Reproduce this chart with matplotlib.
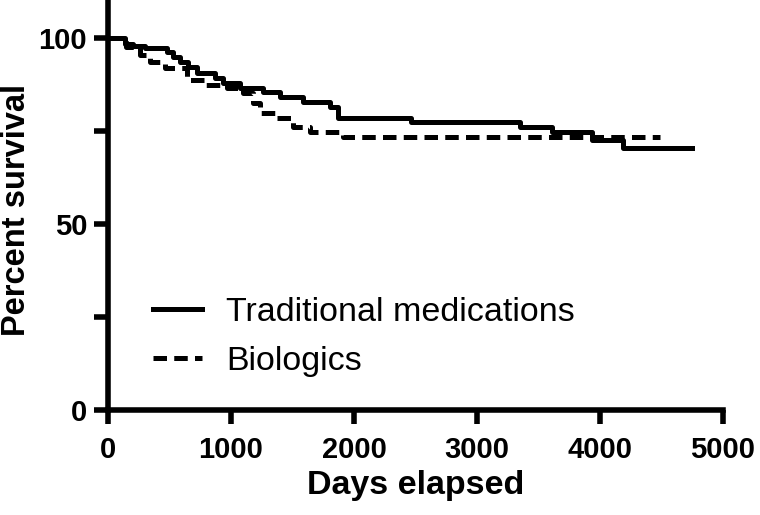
import matplotlib.pyplot as plt

plt.rcParams['font.family'] = ['Liberation Sans', 'DejaVu Sans']

# Kaplan-Meier steps
trad_days = [0, 140, 200, 300, 480, 530, 585, 650, 720, 870, 935, 1075, 1260,
             1400, 1585, 1805, 1870, 2460, 3350, 3610, 3935, 4185, 4750]
trad_surv = [100, 98.5, 98, 97.3, 96.3, 95, 93.6, 92.3, 90.6, 89.2, 87.9, 86.5, 85.5,
             84.1, 82.8, 81.5, 78.5, 77.4, 76, 74.7, 72.6, 70.4, 70.4]

bio_days = [0, 150, 260, 340, 460, 640, 800, 970, 1100, 1180, 1235, 1370, 1500,
            1640, 1910, 4490]
bio_surv = [100, 97.7, 95.4, 93.6, 91.9, 88.7, 87.4, 86.5, 85.2, 82.5, 79.8, 78.5, 76.1,
            74.7, 73.4, 73.4]

x_ticks = [0, 1000, 2000, 3000, 4000, 5000]
y_ticks = [0, 25, 50, 75, 100]
y_labels = ['0', '', '50', '', '100']

fig = plt.figure(figsize=(7.6, 5.15), dpi=100)
ax = fig.add_axes([108 / 760, 105 / 515, 615 / 760, 409 / 515])

ax.plot(trad_days, trad_surv, drawstyle='steps-post', color='black', lw=3.6,
        label='Traditional medications')
ax.plot(bio_days, bio_surv, drawstyle='steps-post', color='black', lw=3.6,
        dashes=(2.7, 1.45), label='Biologics')

ax.set_xlim(0, 5000)
ax.set_ylim(0, 110)
ax.set_xticks(x_ticks)
ax.set_xticklabels([str(t) for t in x_ticks])
ax.set_yticks(y_ticks)
ax.set_yticklabels(y_labels)

for s in ['top', 'right']:
    ax.spines[s].set_visible(False)
for s in ['left', 'bottom']:
    ax.spines[s].set_linewidth(4)
ax.tick_params(width=4, length=10, direction='out', labelsize=21)
ax.tick_params(axis='x', pad=9)
ax.tick_params(axis='y', pad=5)
for lab in ax.get_xticklabels() + ax.get_yticklabels():
    lab.set_fontweight('bold')

ax.set_xlabel('Days elapsed', fontsize=24.5, fontweight='bold', labelpad=4)
ax.set_ylabel('Percent survival', fontsize=23.5, fontweight='bold')
ax.yaxis.set_label_coords(-0.124, 0.49)

leg = ax.legend(loc='center left', bbox_to_anchor=(153 / 760, 1 - 337 / 515),
                bbox_transform=fig.transFigure, frameon=False, fontsize=24.5,
                handlelength=1.45, handletextpad=0.7, borderpad=0,
                borderaxespad=0, labelspacing=0.55)

fig.savefig('out.png', dpi=100)
